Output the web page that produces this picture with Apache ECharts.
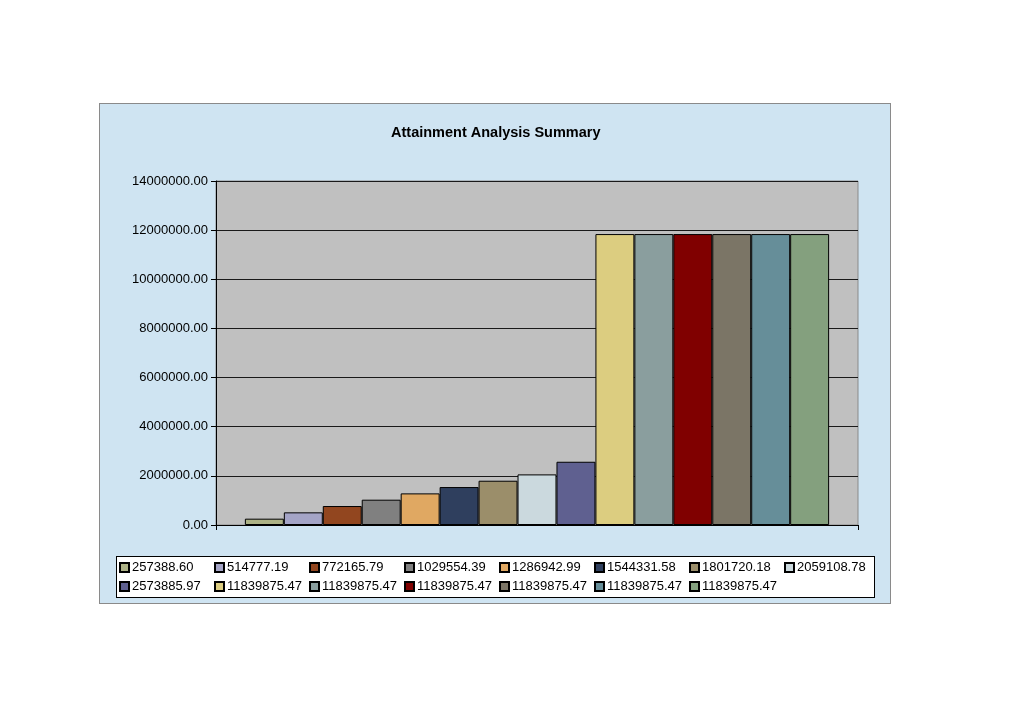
<!DOCTYPE html>
<html>
<head>
<meta charset="utf-8">
<script src="https://cdn.jsdelivr.net/npm/echarts@6/dist/echarts.min.js"></script>
<style>
  body { margin: 0; background: #fff; }
  #frame { position: absolute; left: 99px; top: 103px; width: 790px; height: 499px; background: #cfe4f2; border: 1px solid #8a8a8a; }
  #legendBox { position: absolute; left: 116px; top: 556px; width: 757px; height: 40px; background: #fff; border: 1px solid #000; }
  #main { position: absolute; left: 0; top: 0; width: 1024px; height: 724px; }
</style>
</head>
<body>
<div id="frame"></div>
<div id="legendBox"></div>
<div id="main"></div>
<script>
var seriesNames = ["257388.60", "514777.19", "772165.79", "1029554.39", "1286942.99", "1544331.58", "1801720.18", "2059108.78",
  "2573885.97", "11839875.47", "11839875.47", "11839875.47", "11839875.47", "11839875.47", "11839875.47"];
var seriesValues = [257388.60, 514777.19, 772165.79, 1029554.39, 1286942.99, 1544331.58, 1801720.18, 2059108.78,
  2573885.97, 11839875.47, 11839875.47, 11839875.47, 11839875.47, 11839875.47, 11839875.47];
var barColors = ['#adb286', '#a4a4c6', '#92461f', '#808080', '#e0a862', '#2f3f5e', '#9b8e6a', '#cbd9de',
  '#5f6090', '#dccd80', '#8a9e9e', '#800000', '#7b7566', '#668e99', '#84a07e'];

var myChart = echarts.init(document.getElementById('main'));

var series = seriesValues.map(function (v, i) {
  return {
    // names repeat, so keep them unique for the legend
    name: seriesNames[i] + '\u200b'.repeat(i),
    type: 'bar',
    data: [v],
    barGap: '0%',
    barCategoryGap: '9%',
    itemStyle: { color: barColors[i], borderColor: '#000', borderWidth: 1 }
  };
});

var option = {
  animation: false,
  textStyle: { fontFamily: 'Liberation Sans, Arial, sans-serif' },
  title: {
    text: 'Attainment Analysis Summary',
    left: 386,
    top: 120,
    textStyle: { fontSize: 14.5, fontWeight: 'bold', color: '#000' }
  },
  grid: {
    left: 216, top: 181, width: 642, height: 344,
    show: true, backgroundColor: '#c0c0c0', borderColor: '#8a8a8a', borderWidth: 1
  },
  legend: {
    left: 119,
    top: 561,
    width: 770,
    padding: 0,
    itemWidth: 9,
    itemHeight: 9,
    itemGap: 6,
    icon: 'rect',
    textStyle: {
      fontSize: 13, color: '#000',
      rich: { t: { fontSize: 13, width: 76, lineHeight: 12, padding: [0, 0, 0, -2] } }
    },
    formatter: function (name) { return '{t|' + name.replace(/\u200b/g, '') + '}'; }
  },
  xAxis: {
    type: 'category',
    data: [''],
    axisLine: { lineStyle: { color: '#000' } },
    axisTick: { show: true, length: 5, lineStyle: { color: '#000' } },
    axisLabel: { show: false }
  },
  yAxis: {
    type: 'value',
    min: 0,
    max: 14000000,
    interval: 2000000,
    axisLine: { show: true, lineStyle: { color: '#000' } },
    axisTick: { show: true, length: 5, lineStyle: { color: '#000' } },
    axisLabel: {
      fontSize: 13, color: '#000', margin: 8,
      formatter: function (v) { return v.toFixed(2); }
    },
    splitLine: { lineStyle: { color: '#1a1a1a', width: 1 } }
  },
  series: series
};
myChart.setOption(option);
</script>
</body>
</html>
